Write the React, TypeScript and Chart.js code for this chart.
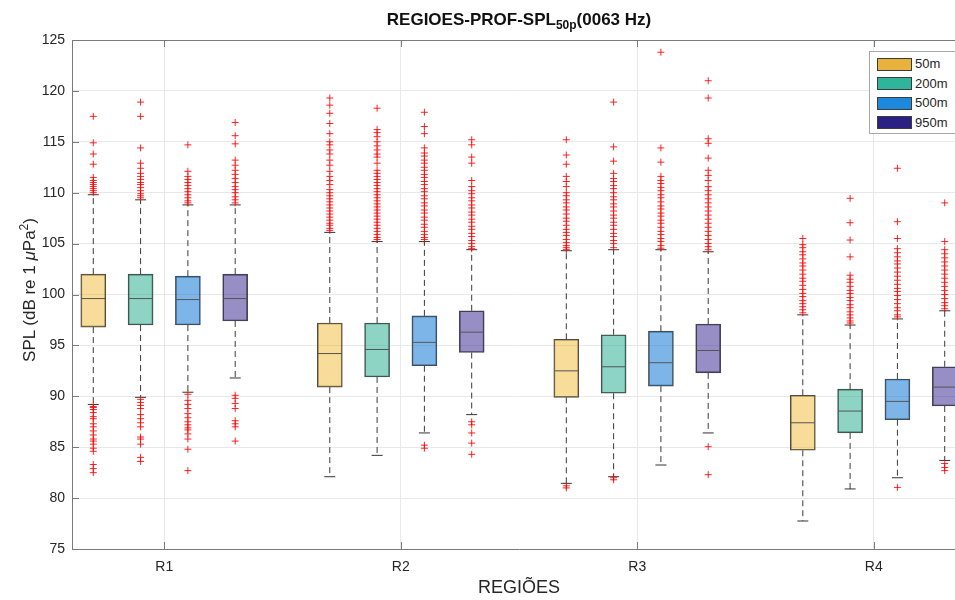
import React, { useEffect, useRef } from 'react';
import { Chart, registerables } from 'chart.js';

Chart.register(...registerables);

// ---------- data ----------
const regions = ['R1', 'R2', 'R3', 'R4'];
const depths = ['50m', '200m', '500m', '950m'];
const regionTicks = [1, 2, 3, 4];
const depthOffsets = [-0.3, -0.1, 0.1, 0.3];

// box statistics per depth, one value per region
const q1_50m = [96.8, 90.9, 89.9, 84.7];
const med_50m = [99.6, 94.2, 92.5, 87.4];
const q3_50m = [102.0, 97.2, 95.6, 90.1];
const lo_50m = [89.2, 82.1, 81.45, 77.75];
const hi_50m = [109.8, 106.1, 104.3, 98.0];

const q1_200m = [97.0, 91.9, 90.3, 86.4];
const med_200m = [99.6, 94.6, 92.9, 88.55];
const q3_200m = [102.0, 97.2, 96.05, 90.7];
const lo_200m = [89.9, 84.2, 82.1, 80.9];
const hi_200m = [109.3, 105.2, 104.4, 97.0];

const q1_500m = [97.0, 93.0, 91.0, 87.7];
const med_500m = [99.5, 95.3, 93.3, 89.5];
const q3_500m = [101.8, 97.9, 96.4, 91.7];
const lo_500m = [90.4, 86.4, 83.25, 82.0];
const hi_500m = [108.8, 105.2, 104.4, 97.6];

const q1_950m = [97.4, 94.3, 92.3, 89.05];
const med_950m = [99.6, 96.3, 94.5, 90.9];
const q3_950m = [102.0, 98.4, 97.1, 92.9];
const lo_950m = [91.8, 88.2, 86.4, 83.7];
const hi_950m = [108.8, 104.4, 104.2, 98.4];

// outliers per depth, one list per region
const out_50m = [
  [117.5, 114.9, 113.8, 112.8, 111.5, 111.2, 111.0, 110.8, 110.6, 110.4, 110.2, 110.0,
    89.0, 88.9, 88.7, 88.4, 88.0, 87.8, 87.3, 87.0, 86.6, 86.2, 85.8, 85.6, 85.3, 84.9, 84.6, 83.3, 82.9, 82.5],
  [119.3, 118.6, 117.8, 116.8, 115.8, 115.0, 114.7, 114.2, 113.8, 113.2, 112.7, 112.1, 111.6, 111.2, 110.8,
    110.3, 110.0, 109.7, 109.4, 109.1, 108.8, 108.5, 108.2, 107.9, 107.6, 107.3, 107.0, 106.8, 106.5, 106.3],
  [115.2, 113.7, 112.8, 111.6, 111.1, 110.6, 110.0, 109.7, 109.3, 109.0, 108.6, 108.3, 107.9, 107.5, 107.2,
    106.8, 106.4, 106.1, 105.8, 105.4, 105.1, 104.8, 104.6, 104.4, 81.2, 81.0],
  [105.5, 104.9, 104.6, 104.2, 103.9, 103.5, 103.1, 102.8, 102.4, 102.0, 101.6, 101.3, 100.9, 100.5, 100.1,
    99.8, 99.4, 99.1, 98.8, 98.5, 98.2],
];
const out_200m = [
  [118.9, 117.5, 114.4, 112.9, 112.4, 111.9, 111.6, 111.3, 111.0, 110.8, 110.5, 110.2, 109.9, 109.7, 109.5,
    89.7, 89.4, 89.1, 88.8, 88.2, 87.8, 87.4, 87.0, 86.0, 85.8, 85.3, 84.0, 83.6],
  [118.3, 116.2, 115.9, 115.5, 115.0, 114.6, 114.2, 113.8, 113.5, 112.9, 112.2, 111.9, 111.6, 111.3, 111.0,
    110.7, 110.4, 110.1, 109.8, 109.5, 109.2, 108.9, 108.6, 108.3, 108.0, 107.7, 107.4, 107.1, 106.8, 106.5,
    106.2, 105.9, 105.6, 105.4],
  [118.9, 114.5, 113.1, 111.9, 111.4, 111.1, 110.7, 110.4, 110.0, 109.6, 109.3, 108.9, 108.6, 108.2, 107.8,
    107.5, 107.1, 106.8, 106.4, 106.0, 105.7, 105.3, 105.0, 104.6, 82.0, 81.8],
  [109.45, 107.05, 105.35, 103.7, 101.9, 101.5, 101.2, 100.8, 100.4, 100.1, 99.7, 99.4, 99.0, 98.7, 98.3,
    98.0, 97.7, 97.4, 97.2],
];
const out_500m = [
  [114.7, 112.1, 111.6, 111.3, 111.0, 110.7, 110.4, 110.1, 109.8, 109.5, 109.2, 109.0,
    90.2, 89.6, 89.2, 88.8, 88.3, 87.9, 87.5, 87.2, 86.9, 86.7, 86.3, 85.8, 84.8, 82.7],
  [117.9, 116.5, 115.8, 114.4, 113.9, 113.6, 113.2, 112.9, 112.5, 112.2, 111.8, 111.5, 111.1, 110.8, 110.4,
    110.1, 109.7, 109.4, 109.0, 108.7, 108.3, 108.0, 107.6, 107.3, 106.9, 106.6, 106.2, 105.9, 105.6, 105.4,
    85.2, 84.9],
  [123.8, 114.4, 113.0, 111.6, 111.2, 110.9, 110.5, 110.2, 109.8, 109.5, 109.1, 108.7, 108.4, 108.0, 107.7,
    107.3, 107.0, 106.6, 106.2, 105.9, 105.5, 105.2, 104.8, 104.55],
  [112.4, 107.15, 105.5, 104.5, 104.1, 103.7, 103.3, 103.0, 102.6, 102.2, 101.8, 101.4, 101.0, 100.6, 100.3,
    99.9, 99.5, 99.1, 98.7, 98.4, 98.0, 97.8, 81.05],
];
const out_950m = [
  [116.9, 115.6, 114.8, 113.2, 112.7, 112.2, 111.8, 111.4, 111.0, 110.6, 110.3, 110.0, 109.6, 109.3, 109.0,
    90.1, 89.8, 89.3, 88.8, 87.6, 87.3, 87.0, 85.6],
  [115.2, 114.7, 113.5, 112.9, 111.2, 110.6, 110.2, 109.9, 109.5, 109.2, 108.8, 108.5, 108.1, 107.8, 107.4,
    107.1, 106.7, 106.4, 106.0, 105.7, 105.3, 105.0, 104.7, 104.5, 87.5, 87.2, 86.4, 85.4, 84.3],
  [121.0, 119.3, 115.3, 114.85, 113.4, 112.2, 111.7, 111.2, 110.6, 110.2, 109.8, 109.4, 109.0, 108.6, 108.2,
    107.8, 107.4, 107.0, 106.6, 106.2, 105.8, 105.4, 105.0, 104.7, 104.4, 85.05, 82.3],
  [109.0, 105.2, 104.4, 104.0, 103.6, 103.2, 102.8, 102.4, 102.0, 101.6, 101.2, 100.8, 100.4, 100.0, 99.6,
    99.2, 98.9, 98.6, 83.4, 83.0, 82.7],
];

// ---------- styles ----------
const boxFill = ['rgba(237,177,32,0.45)', 'rgba(30,170,140,0.5)', 'rgba(20,120,215,0.55)', 'rgba(45,30,140,0.5)'];
const legendFill = ['#E8B23C', '#2EB59A', '#1E88DC', '#2B2184'];
const FONT = "'Liberation Sans', Arial, Helvetica, sans-serif";

const stats = [
  { q1: q1_50m, med: med_50m, q3: q3_50m, lo: lo_50m, hi: hi_50m, out: out_50m },
  { q1: q1_200m, med: med_200m, q3: q3_200m, lo: lo_200m, hi: hi_200m, out: out_200m },
  { q1: q1_500m, med: med_500m, q3: q3_500m, lo: lo_500m, hi: hi_500m, out: out_500m },
  { q1: q1_950m, med: med_950m, q3: q3_950m, lo: lo_950m, hi: hi_950m, out: out_950m },
];

const framePlugin = {
  id: 'frame',
  afterDatasetsDraw(chart: any) {
    const { ctx, chartArea, scales } = chart;
    const { left, right, top, bottom } = chartArea;
    const x = scales.x;
    const y = scales.y;
    ctx.save();
    ctx.strokeStyle = '#7a7a7a';
    ctx.lineWidth = 1;
    ctx.beginPath();
    ctx.moveTo(left, top + 0.5);
    ctx.lineTo(right, top + 0.5);
    ctx.moveTo(right - 0.5, top);
    ctx.lineTo(right - 0.5, bottom);
    y.ticks.forEach((t: any) => {
      const py = Math.round(y.getPixelForValue(t.value)) + 0.5;
      ctx.moveTo(left, py);
      ctx.lineTo(left + 7, py);
      ctx.moveTo(right, py);
      ctx.lineTo(right - 7, py);
    });
    x.ticks.forEach((t: any) => {
      const px = Math.round(x.getPixelForValue(t.value)) + 0.5;
      ctx.moveTo(px, bottom);
      ctx.lineTo(px, bottom - 7);
      ctx.moveTo(px, top);
      ctx.lineTo(px, top + 7);
    });
    ctx.stroke();
    ctx.restore();
  },
};

export default function App() {
  const canvasRef = useRef<HTMLCanvasElement | null>(null);

  useEffect(() => {
    if (!canvasRef.current) return;

    const boxSets = stats.map((s, d) => ({
      type: 'bar' as const,
      label: depths[d],
      data: regions.map((_, i) => ({ x: regionTicks[i] + depthOffsets[d], y: [s.q1[i], s.q3[i]] })),
      backgroundColor: boxFill[d],
      borderColor: '#4a4a4a',
      borderWidth: 1,
      borderSkipped: false,
      barThickness: 25,
      grouped: false,
      order: 5,
    }));

    const whiskerSets = stats.map((s, d) => ({
      type: 'line' as const,
      label: 'whisker ' + depths[d],
      data: regions.flatMap((_, i) => {
        const x = regionTicks[i] + depthOffsets[d];
        return [
          { x, y: s.q3[i] }, { x, y: s.hi[i] }, { x, y: null },
          { x, y: s.q1[i] }, { x, y: s.lo[i] }, { x, y: null },
        ];
      }),
      borderColor: '#3a3a3a',
      borderWidth: 1,
      borderDash: [6, 4],
      pointRadius: 0,
      spanGaps: false,
      fill: false,
      order: 4,
    }));

    const capSet = {
      type: 'scatter' as const,
      label: 'caps',
      data: stats.flatMap((s, d) =>
        regions.flatMap((_, i) => {
          const x = regionTicks[i] + depthOffsets[d];
          return [{ x, y: s.hi[i] }, { x, y: s.lo[i] }];
        })
      ),
      pointStyle: 'line',
      pointRadius: 5.5,
      pointBorderWidth: 1,
      borderColor: '#333333',
      pointBorderColor: '#333333',
      order: 3,
    };

    const medianSet = {
      type: 'scatter' as const,
      label: 'median',
      data: stats.flatMap((s, d) =>
        regions.map((_, i) => ({ x: regionTicks[i] + depthOffsets[d], y: s.med[i] }))
      ),
      pointStyle: 'line',
      pointRadius: 12,
      pointBorderWidth: 1,
      borderColor: '#555555',
      pointBorderColor: '#555555',
      order: 2,
    };

    const outlierSet = {
      type: 'scatter' as const,
      label: 'outliers',
      data: stats.flatMap((s, d) =>
        regions.flatMap((_, i) =>
          s.out[i].map((v) => ({ x: regionTicks[i] + depthOffsets[d], y: v }))
        )
      ),
      pointStyle: 'cross',
      pointRadius: 3.5,
      pointBorderWidth: 1,
      borderColor: 'rgba(255,0,0,0.85)',
      pointBorderColor: 'rgba(255,0,0,0.85)',
      order: 1,
    };

    const chart = new Chart(canvasRef.current, {
      type: 'bar',
      data: {
        datasets: [...boxSets, ...whiskerSets, capSet, medianSet, outlierSet] as any,
      },
      options: {
        animation: false,
        responsive: false,
        devicePixelRatio: 1,
        layout: { padding: { left: 0, right: 14, top: 40, bottom: 0 } },
        font: { family: FONT },
        plugins: {
          legend: { display: false },
          tooltip: { enabled: false },
          title: { display: false },
        },
        scales: {
          x: {
            type: 'linear',
            min: 0.61,
            max: 4.39,
            offset: false,
            afterBuildTicks: (scale: any) => {
              scale.ticks = regionTicks.map((v) => ({ value: v }));
            },
            afterFit: (scale: any) => {
              scale.height = 51;
            },
            ticks: {
              callback: (v: any) => regions[Math.round(Number(v)) - 1] ?? '',
              font: { family: FONT, size: 14 },
              color: '#262626',
              padding: 10,
              maxRotation: 0,
            },
            grid: { color: '#e8e8e8', drawTicks: false, offset: false },
            border: { display: true, color: '#7a7a7a' },
            title: {
              display: true,
              text: 'REGIÕES',
              font: { family: FONT, size: 18 },
              color: '#262626',
              padding: { top: 0, bottom: 1 },
            },
          },
          y: {
            type: 'linear',
            min: 75,
            max: 125,
            beginAtZero: false,
            afterFit: (scale: any) => {
              scale.width = 72;
            },
            ticks: {
              stepSize: 5,
              font: { family: FONT, size: 14 },
              color: '#262626',
              padding: 7,
            },
            grid: { color: '#e8e8e8', drawTicks: false },
            border: { display: true, color: '#7a7a7a' },
          },
        },
      } as any,
      plugins: [framePlugin],
    });

    return () => {
      chart.destroy();
    };
  }, []);

  return (
    <div
      style={{
        position: 'absolute',
        left: 0,
        top: 0,
        width: 955,
        height: 600,
        overflow: 'hidden',
        background: '#ffffff',
        fontFamily: FONT,
      }}
    >
      <canvas ref={canvasRef} width={980} height={600} style={{ width: 980, height: 600, display: 'block' }} />
      <div
        style={{
          position: 'absolute',
          left: 72,
          width: 894,
          top: 10,
          textAlign: 'center',
          fontWeight: 'bold',
          fontSize: 17,
          lineHeight: '19px',
          color: '#111111',
          whiteSpace: 'nowrap',
        }}
      >
        REGIOES-PROF-SPL<sub style={{ fontSize: 12 }}>50p</sub>(0063 Hz)
      </div>
      <div
        style={{
          position: 'absolute',
          left: 24 - 150,
          top: 290 - 10,
          width: 300,
          height: 20,
          lineHeight: '20px',
          textAlign: 'center',
          fontSize: 17,
          color: '#262626',
          transform: 'rotate(-90deg)',
          transformOrigin: '50% 50%',
          whiteSpace: 'nowrap',
        }}
      >
        SPL (dB re 1 <i>μ</i>Pa<sup style={{ fontSize: 12 }}>2</sup>)
      </div>
      <div
        style={{
          position: 'absolute',
          left: 869,
          top: 51,
          width: 92,
          height: 83,
          border: '1px solid #a8a8a8',
          background: '#ffffff',
          boxSizing: 'border-box',
        }}
      >
        {depths.map((d, i) => (
          <div key={d}>
            <div
              style={{
                position: 'absolute',
                left: 7,
                top: 5.5 + i * 19.5,
                width: 35,
                height: 13,
                background: legendFill[i],
                border: '1px solid #3c3c3c',
                boxSizing: 'border-box',
              }}
            />
            <div
              style={{
                position: 'absolute',
                left: 45,
                top: 4 + i * 19.5,
                fontSize: 13,
                lineHeight: '16px',
                color: '#262626',
              }}
            >
              {d}
            </div>
          </div>
        ))}
      </div>
    </div>
  );
}
